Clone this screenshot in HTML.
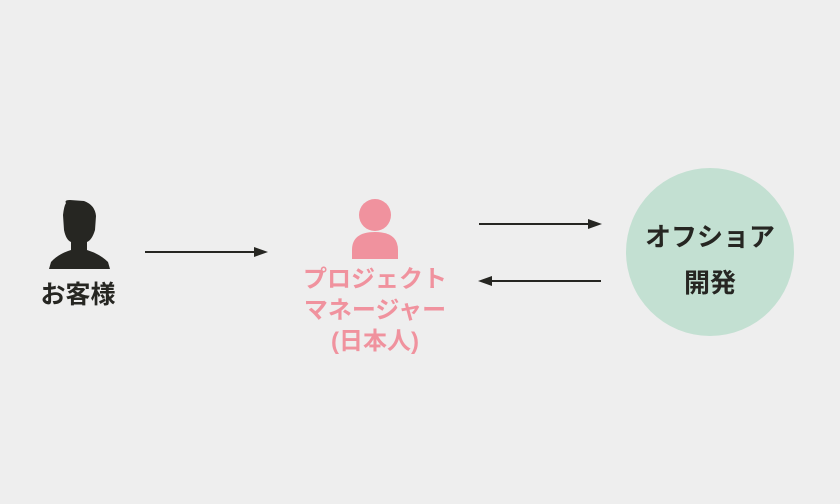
<!DOCTYPE html>
<html><head><meta charset="utf-8"><style>
html,body{margin:0;padding:0;}
body{width:840px;height:504px;background:#eeeeee;position:relative;overflow:hidden;font-family:"Liberation Sans","Noto Sans CJK JP",sans-serif;font-weight:bold;}
.t{position:absolute;white-space:nowrap;text-align:center;}
</style></head><body>
<svg width="840" height="504" style="position:absolute;left:0;top:0">
 <g fill="#262622">
  <path d="M66 203 Q64 200 70 200 L84 201 Q95 205 96 216 L95 230 Q92 240 87 242 L87 250 Q100 254 108 262 L110 269 L49 269 L51 262 Q58 254 71 250 L71 242 Q66 240 64 230 L63 215 Q64 206 66 203Z"/>
 </g>
 <g fill="#f0929e">
  <circle cx="375" cy="215" r="16"/>
  <path d="M352 259 L352 250 Q352 232 375 232 Q398 232 398 250 L398 259Z"/>
 </g>
 <g stroke="#262622" stroke-width="2" fill="#262622">
  <line x1="145" y1="252" x2="256" y2="252"/>
  <polygon points="268,252 254,247 254,257" stroke="none"/>
  <line x1="479" y1="224" x2="590" y2="224"/>
  <polygon points="602,224 588,219 588,229" stroke="none"/>
  <line x1="492" y1="281" x2="601" y2="281"/>
  <polygon points="478,281 492,276 492,286" stroke="none"/>
 </g>
 <circle cx="710" cy="252" r="84" fill="#c3e0d2"/>
</svg>
<div class="t" style="left:28px;top:278px;width:100px;font-size:25px;line-height:34px;color:#262622;">お客様</div>
<div class="t" style="left:285px;top:264px;width:180px;font-size:24px;line-height:31px;color:#f0929e;">プロジェクト<br>マネージャー<br>(日本人)</div>
<div class="t" style="left:630px;top:214px;width:160px;font-size:26px;line-height:46px;color:#262622;">オフショア<br>開発</div>
</body></html>
